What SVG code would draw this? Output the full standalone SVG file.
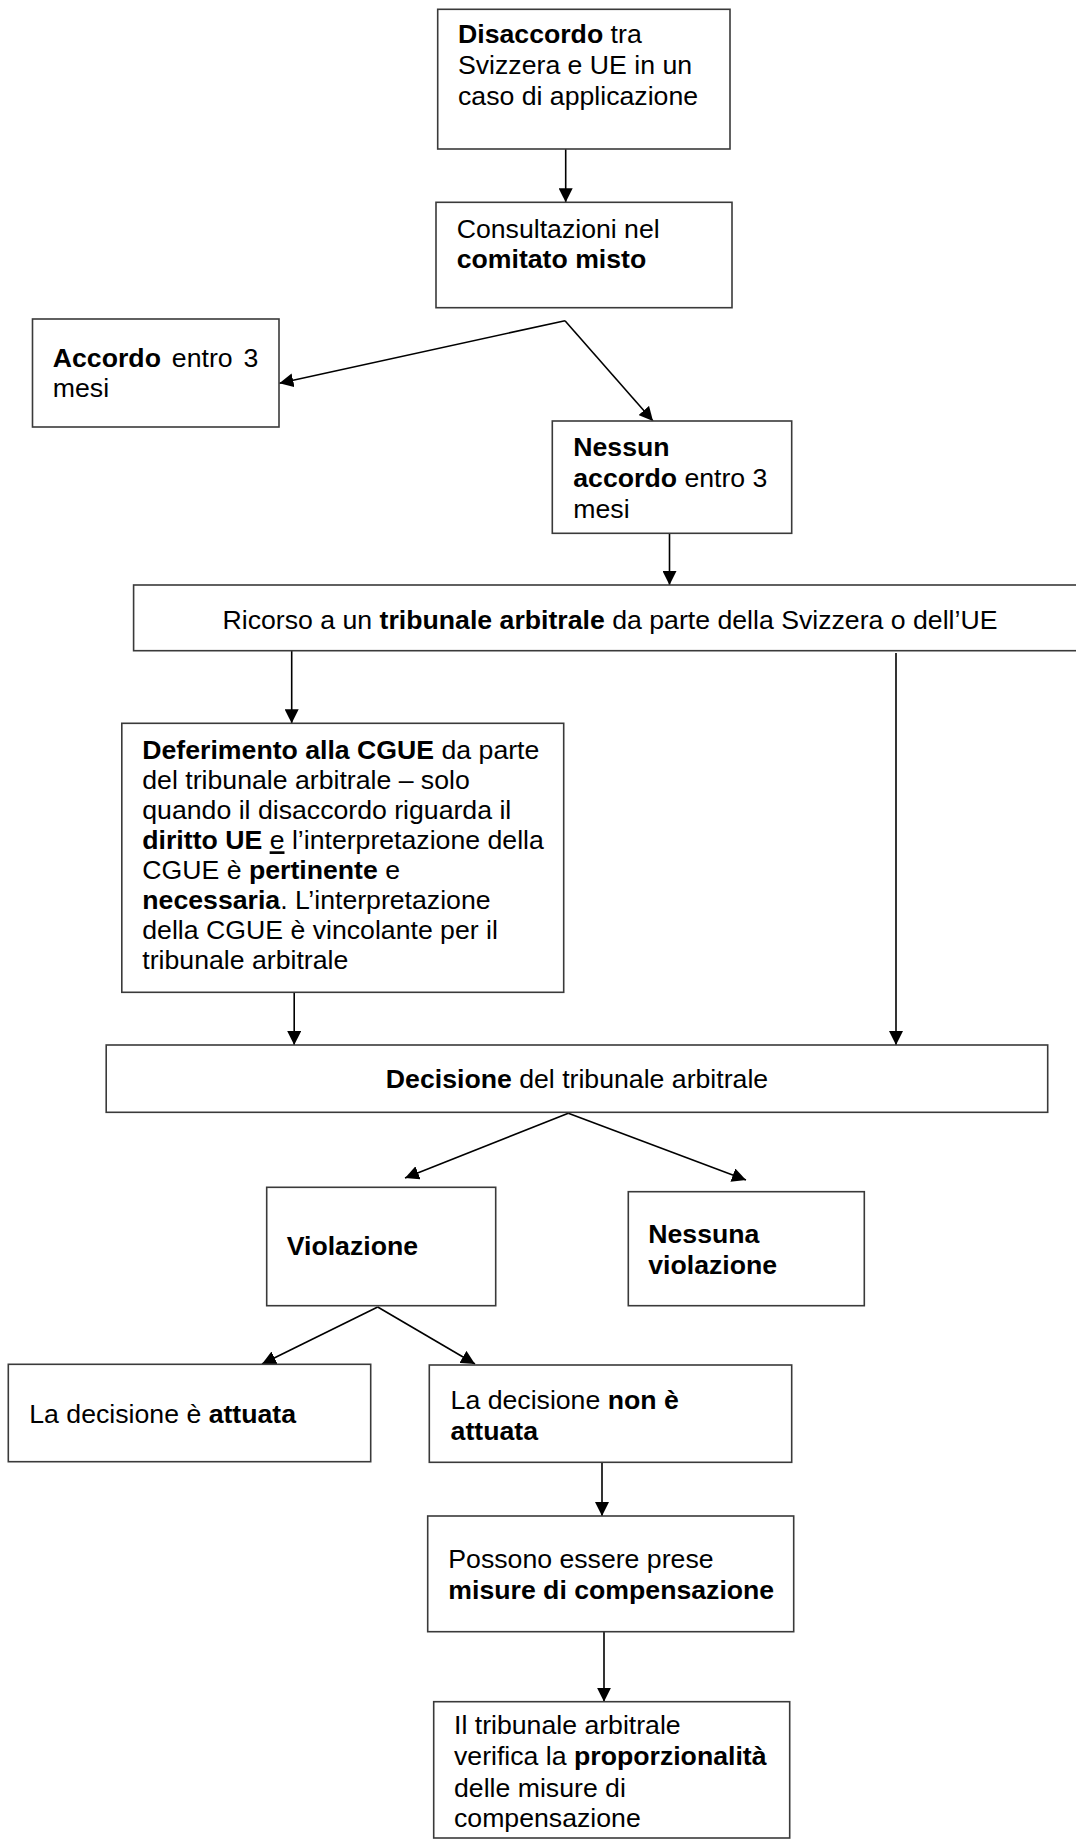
<svg xmlns="http://www.w3.org/2000/svg" width="1076" height="1839" viewBox="0 0 1076 1839">
<style>
.box{fill:#fff;stroke:#3a3a3a;stroke-width:1.6}
.t{font-family:"Liberation Sans",Arial,sans-serif;font-size:26.67px;fill:#000}
.b{font-weight:bold}
.c{fill:none;stroke:#000;stroke-width:1.6}
.a{marker-end:url(#ah)}
</style>
<defs>
<marker id="ah" markerUnits="userSpaceOnUse" markerWidth="14" markerHeight="14" refX="14" refY="7" orient="auto">
<path d="M0,0 L14,7 L0,14 z" fill="#000"/>
</marker>
</defs>
<rect width="1076" height="1839" fill="#fff"/>

<g id="connectors">
<line class="c a" x1="565.7" y1="149" x2="565.7" y2="202.3"/>
<line class="c a" x1="565" y1="320.7" x2="279.4" y2="383.3"/>
<line class="c a" x1="565" y1="320.7" x2="653" y2="421"/>
<line class="c a" x1="669.5" y1="533.3" x2="669.5" y2="585"/>
<line class="c a" x1="291.7" y1="650.7" x2="291.7" y2="723.3"/>
<line class="c a" x1="896" y1="653" x2="896" y2="1045"/>
<line class="c a" x1="294.2" y1="993" x2="294.2" y2="1045"/>
<line class="c a" x1="568.3" y1="1113.3" x2="405" y2="1178"/>
<line class="c a" x1="568.3" y1="1113.3" x2="746" y2="1180"/>
<line class="c a" x1="377.7" y1="1307" x2="262" y2="1364"/>
<line class="c a" x1="377.7" y1="1307" x2="475" y2="1364"/>
<line class="c a" x1="602" y1="1462.3" x2="602" y2="1516"/>
<line class="c a" x1="604" y1="1631.7" x2="604" y2="1701.7"/>
</g>

<g id="n-disaccordo">
<rect class="box" x="437.7" y="9.3" width="292.3" height="139.7"/>
<text class="t" x="458" y="43.3"><tspan class="b">Disaccordo</tspan> tra</text>
<text class="t" x="458" y="74">Svizzera e UE in un</text>
<text class="t" x="458" y="105">caso di applicazione</text>
</g>

<g id="n-consultazioni">
<rect class="box" x="436" y="202.3" width="296" height="105.4"/>
<text class="t" x="456.7" y="237.7">Consultazioni nel</text>
<text class="t b" x="456.7" y="267.7">comitato misto</text>
</g>

<g id="n-accordo">
<rect class="box" x="32.5" y="319" width="246.5" height="108"/>
<text class="t" x="52.8" y="366.7" word-spacing="3.5"><tspan class="b">Accordo</tspan> entro 3</text>
<text class="t" x="52.8" y="396.7">mesi</text>
</g>

<g id="n-nessun-accordo">
<rect class="box" x="552.3" y="421" width="239.4" height="112.3"/>
<text class="t b" x="573.3" y="455.7">Nessun</text>
<text class="t" x="573.3" y="487.3"><tspan class="b">accordo</tspan> entro 3</text>
<text class="t" x="573.3" y="518.3">mesi</text>
</g>

<g id="n-ricorso">
<rect class="box" x="133.6" y="585" width="953.4" height="65.7"/>
<text class="t" x="610" y="629.3" text-anchor="middle">Ricorso a un <tspan class="b">tribunale arbitrale</tspan> da parte della Svizzera o dell’UE</text>
</g>

<g id="n-deferimento">
<rect class="box" x="121.8" y="723.3" width="441.9" height="269"/>
<text class="t" x="142.3" y="759.3"><tspan class="b">Deferimento alla CGUE</tspan> da parte</text>
<text class="t" x="142.3" y="789.3">del tribunale arbitrale – solo</text>
<text class="t" x="142.3" y="819.3">quando il disaccordo riguarda il</text>
<text class="t" x="142.3" y="849.3"><tspan class="b">diritto UE</tspan> <tspan text-decoration="underline">e</tspan> l’interpretazione della</text>
<text class="t" x="142.3" y="879.3">CGUE è <tspan class="b">pertinente</tspan> e</text>
<text class="t" x="142.3" y="909.3"><tspan class="b">necessaria</tspan>. L’interpretazione</text>
<text class="t" x="142.3" y="939.3">della CGUE è vincolante per il</text>
<text class="t" x="142.3" y="969.3">tribunale arbitrale</text>
</g>

<g id="n-decisione">
<rect class="box" x="106.2" y="1045" width="941.5" height="67.3"/>
<text class="t" x="577" y="1088.3" text-anchor="middle"><tspan class="b">Decisione</tspan> del tribunale arbitrale</text>
</g>

<g id="n-violazione">
<rect class="box" x="266.7" y="1187.3" width="229" height="118.4"/>
<text class="t b" x="286.7" y="1255">Violazione</text>
</g>

<g id="n-nessuna-violazione">
<rect class="box" x="628.3" y="1191.7" width="236" height="114"/>
<text class="t b" x="648.3" y="1243.3">Nessuna</text>
<text class="t b" x="648.3" y="1274.3">violazione</text>
</g>

<g id="n-attuata">
<rect class="box" x="8.3" y="1364.3" width="362.4" height="97.4"/>
<text class="t" x="29.3" y="1423.3">La decisione è <tspan class="b">attuata</tspan></text>
</g>

<g id="n-non-attuata">
<rect class="box" x="429.3" y="1365" width="362.4" height="97.3"/>
<text class="t" x="450.6" y="1409">La decisione <tspan class="b">non è</tspan></text>
<text class="t b" x="450.6" y="1440">attuata</text>
</g>

<g id="n-misure">
<rect class="box" x="427.7" y="1516" width="366" height="115.7"/>
<text class="t" x="448.3" y="1568.3">Possono essere prese</text>
<text class="t b" x="448.3" y="1599.3">misure di compensazione</text>
</g>

<g id="n-proporzionalita">
<rect class="box" x="433.7" y="1701.7" width="356" height="136.3"/>
<text class="t" x="454" y="1734.3">Il tribunale arbitrale</text>
<text class="t" x="454" y="1765">verifica la <tspan class="b">proporzionalità</tspan></text>
<text class="t" x="454" y="1796.7">delle misure di</text>
<text class="t" x="454" y="1827.3">compensazione</text>
</g>
</svg>
